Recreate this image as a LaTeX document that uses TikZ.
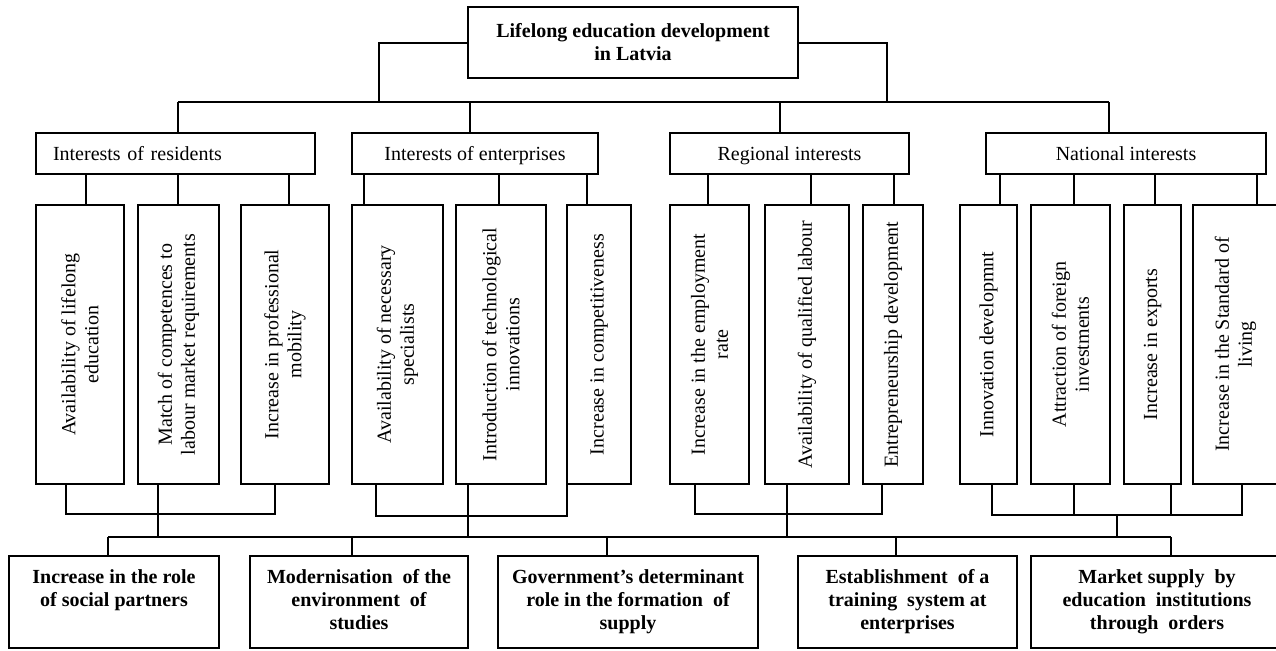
\documentclass[tikz,border=0pt]{standalone}
\usepackage{fontspec}
\setmainfont{Liberation Serif}
\newcommand\mkbox[7]{\node[#2, minimum width={(#5-#3)*0.75pt}, minimum height={(#6-#4)*0.75pt}] (#1) at ({(#3+#5)/2},{(#4+#6)/2}) {#7};}
\newcommand\mkvbox[7]{\node[#2, rotate=90, minimum width={(#6-#4)*0.75pt}, minimum height={(#5-#3)*0.75pt}] (#1) at ({(#3+#5)/2},{(#4+#6)/2}) {#7};}
\begin{document}
\begin{tikzpicture}[x=0.75pt,y=-0.75pt,
  bx/.style={draw, line width=1.5pt, inner sep=0pt, align=center, font=\fontsize{15}{17.25}\selectfont},
  hbx/.style={bx, text height=11.5pt, text depth=1.75pt},
  tbx/.style={bx, font=\bfseries\fontsize{15}{17.25}\selectfont},
  btxt/.style={inner sep=0pt, align=center, anchor=north, font=\bfseries\fontsize{15}{17.25}\selectfont},
  ln/.style={line width=1.5pt}]
\useasboundingbox (0,0) rectangle (1276,650);
\clip (0,0) rectangle (1276,650);
% title
\mkbox{title}{tbx}{468}{7}{798}{78}{Lifelong education development\\in Latvia}
% headings
\mkbox{res}{hbx, text width={245*0.75pt}, align=left}{36}{133}{315}{174}{Interests of residents}
\mkbox{ent}{hbx}{352}{133}{598}{174}{Interests of enterprises}
\mkbox{reg}{hbx}{670}{133}{909}{174}{Regional interests}
\mkbox{nat}{hbx}{986}{133}{1266}{174}{National interests}
% vertical boxes
\mkvbox{v1}{bx}{36}{205}{124}{484}{Availability of lifelong\\education}
\mkvbox{v2}{bx}{138}{205}{219}{484}{Match of competences to\\labour market requirements}
\mkvbox{v3}{bx}{241}{205}{329}{484}{Increase in professional\\mobility}
\mkvbox{v4}{bx}{352}{205}{443}{484}{Availability of necessary\\specialists}
\mkvbox{v5}{bx}{456}{205}{546}{484}{Introduction of technological\\innovations}
\mkvbox{v6}{bx}{567}{205}{631}{484}{Increase in competitiveness}
\mkvbox{v7}{bx}{670}{205}{749}{484}{Increase in the employment\\rate}
\mkvbox{v8}{bx}{765}{205}{849}{484}{Availability of qualified labour}
\mkvbox{v9}{bx}{863}{205}{923}{484}{Entrepreneurship development}
\mkvbox{v10}{bx}{960}{205}{1017}{484}{Innovation developmnt}
\mkvbox{v11}{bx}{1031}{205}{1110}{484}{Attraction of foreign\\investments}
\mkvbox{v12}{bx}{1124}{205}{1181}{484}{Increase in exports}
\mkvbox{v13}{bx}{1193}{205}{1278}{484}{Increase in the Standard of\\living}
% bottom boxes
\mkbox{b1}{bx}{9}{556}{219}{648}{}
\mkbox{b2}{bx}{250}{556}{468}{648}{}
\mkbox{b3}{bx}{498}{556}{758}{648}{}
\mkbox{b4}{bx}{798}{556}{1017}{648}{}
\mkbox{b5}{bx}{1031}{556}{1283}{648}{}
\node[btxt] (b1t) at ([yshift=-10.5pt]b1.north) {Increase in the role\\of social partners};
\node[btxt] (b2t) at ([yshift=-10.5pt]b2.north) {Modernisation\ \ of the\\environment\ \ of\\studies};
\node[btxt] (b3t) at ([yshift=-10.5pt]b3.north) {Government’s determinant\\role in the formation\ \ of\\supply};
\node[btxt] (b4t) at ([yshift=-10.5pt]b4.north) {Establishment\ \ of a\\training\ \ system at\\enterprises};
\node[btxt] (b5t) at ([yshift=-10.5pt]b5.north) {Market supply\ \ by\\education\ \ institutions\\through\ \ orders};
% title to top bus
\coordinate (jl) at (379,102);
\coordinate (jr) at (887,102);
\coordinate (bl) at (178,102);
\coordinate (br) at (1109,102);
\draw[ln] (title.west) -| (jl);
\draw[ln] (title.east) -| (jr);
\draw[ln] (bl) -- (br);
\foreach \h/\x in {res/178, ent/470, reg/780, nat/1109}
  \draw[ln] (\x,102) -- (\h.north -| \x,0);
% headings to vertical boxes
\foreach \h/\v/\x in {res/v1/86, res/v2/178, res/v3/289, ent/v4/364, ent/v5/499, ent/v6/587,
  reg/v7/708, reg/v8/811, reg/v9/894, nat/v10/1000, nat/v11/1074, nat/v12/1155, nat/v13/1257}
  \draw[ln] (\h.south -| \x,0) -- (\v.east -| \x,0);
% vertical boxes to bottom groups
\draw[ln] (v1.west -| 66,0) -- (66,514) -- (275,514) -- (v3.west -| 275,0);
\draw[ln] (v2.west -| 158,0) -- (158,537);
\draw[ln] (v4.west -| 376,0) -- (376,516) -- (567,516) -- (v6.west -| 567,0);
\draw[ln] (v5.west -| 468,0) -- (468,537);
\draw[ln] (v7.west -| 695,0) -- (695,514) -- (882,514) -- (v9.west -| 882,0);
\draw[ln] (v8.west -| 787,0) -- (787,537);
\draw[ln] (v10.west -| 992,0) -- (992,515) -- (1242,515) -- (v13.west -| 1242,0);
\draw[ln] (v11.west -| 1074,0) -- (1074,515);
\draw[ln] (v12.west -| 1171,0) -- (1171,515);
\draw[ln] (1117,515) -- (1117,537);
% bottom bus
\coordinate (cl) at (108,537);
\coordinate (cr) at (1171,537);
\draw[ln] (cl) -- (cr);
\foreach \b/\x in {b1/108, b2/352, b3/607, b4/896, b5/1171}
  \draw[ln] (\x,537) -- (\b.north -| \x,0);
\end{tikzpicture}
\end{document}
